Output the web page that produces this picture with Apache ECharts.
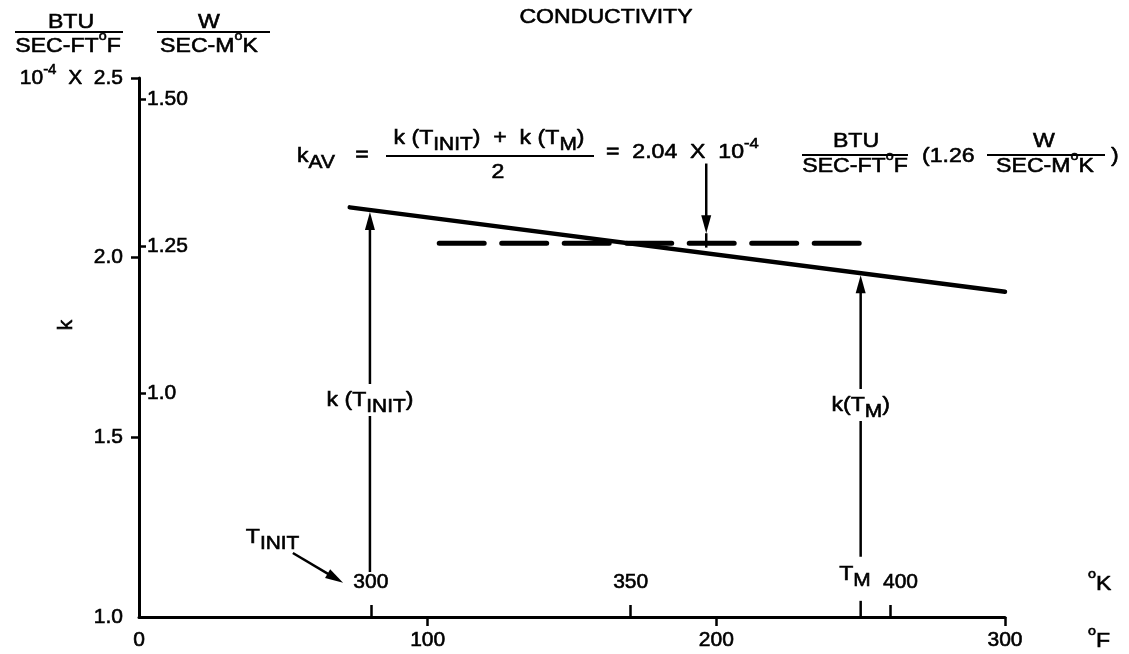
<!DOCTYPE html>
<html>
<head>
<meta charset="utf-8">
<script src="https://cdn.jsdelivr.net/npm/echarts@6/dist/echarts.min.js"></script>
<style>
  html, body { margin: 0; padding: 0; background: #fff; }
  #chart { width: 1129px; height: 654px; }
</style>
</head>
<body>
<div id="chart"></div>
<script>
// Conductivity k of the material versus temperature
const tempF = [73, 300];            // deg F
const kValues = [2.14, 1.905];      // 1e-4 BTU / (s ft F)
const kAvgSpanF = [104, 250];       // extent of the average line
const kAverage = 2.04;              // k_AV, 1e-4 BTU / (s ft F)
const tInitF = 80;                  // T_INIT (300 K)
const tMeltF = 250;                 // T_M
const kTicksBtu = [1.5, 2.0, 2.5];
const kTicksW = [1.0, 1.25, 1.5];
const kTickLabelsW = ['1.0', '1.25', '1.50'];
const kelvinTicks = [300, 350, 400];
const fahrenheitTicks = [100, 200, 300];

const FONT = "'Liberation Sans', Arial, Helvetica, sans-serif";
const INK = '#000';
const FS = 21;
const AXIS_FS = 21;
const WIDE = 1.1;   // lettering is slightly extended
const HEAVY = 0.6;  // extra stroke that gives the lettering its weight

const rich = {
  sub: { fontSize: 19, fontFamily: FONT, color: INK, fill: INK, verticalAlign: 'bottom', lineHeight: 19 },
  deg: { fontSize: 13, fontFamily: FONT, color: INK, fill: INK, verticalAlign: 'top', lineHeight: 21 },
  exp: { fontSize: 15, fontFamily: FONT, color: INK, fill: INK, verticalAlign: 'top', lineHeight: 14 }
};

// linear interpolation along the conductivity line
function kAt(f) {
  const t = (f - tempF[0]) / (tempF[1] - tempF[0]);
  return kValues[0] + t * (kValues[1] - kValues[0]);
}

const fToK = f => (f - 32) / 1.8 + 273.15;

// arrows and plain strokes: [x1, y1, x2, y2, hasHead]
const strokes = [
  [tInitF, 1.125, tInitF, kAt(tInitF) - 0.006, 1],
  [tMeltF, 1.168, tMeltF, kAt(tMeltF) - 0.006, 1],
  [tMeltF, 1.0, tMeltF, 1.045, 0],
  [196.5, 2.262, 196.5, kAverage + 0.028, 1],
  [196.5, kAverage + 0.028, 196.5, kAverage - 0.012, 0],
  [53.3, 1.178, 70.7, 1.095, 1]
];

// text annotations anchored in data space
const notes = [
  { value: [tInitF, 1.604], text: 'k (T{sub|INIT})', align: 'center', bg: true },
  { value: [tMeltF, 1.590], text: 'k(T{sub|M})', align: 'center', bg: true },
  { value: [37, 1.222], text: 'T{sub|INIT}', align: 'left', bg: false },
  { value: [248, 1.118], text: 'T{sub|M}', align: 'center', bg: false }
];

const chart = echarts.init(document.getElementById('chart'), null, { renderer: 'canvas' });

function txt(x, y, text, align, extra) {
  return Object.assign({
    type: 'text', x: x, y: y, z: 10, scaleX: WIDE,
    style: {
      text: text, fontSize: FS, fontFamily: FONT, fill: INK,
      stroke: INK, lineWidth: HEAVY,
      align: align || 'center', verticalAlign: 'middle', lineHeight: 32,
      rich: rich
    }
  }, extra || {});
}
function rule(x1, x2, y, w) {
  return { type: 'line', z: 10, shape: { x1: x1, y1: y, x2: x2, y2: y }, style: { stroke: INK, lineWidth: w || 2 } };
}

const axisText = {
  fontSize: AXIS_FS, fontFamily: FONT, color: INK,
  textBorderColor: INK, textBorderWidth: HEAVY
};

const graphics = [
  // title
  txt(606, 17, 'CONDUCTIVITY'),
  // unit fractions of the two k scales
  txt(71, 22, 'BTU'), rule(15, 123, 32), txt(68, 46, 'SEC-FT{deg|o}F'),
  txt(209, 22, 'W'), rule(157, 270, 32), txt(209, 46, 'SEC-M{deg|o}K'),
  // y axis name
  txt(66, 325, 'k', 'center', { rotation: Math.PI / 2, scaleX: 1 }),
  // temperature units
  txt(1088, 584, '{deg|o}K', 'left'), txt(1088, 641, '{deg|o}F', 'left'),
  // average conductivity formula
  txt(297, 156, 'k{sub|AV}', 'left'),
  txt(362, 155, '='),
  txt(489, 138, 'k (T{sub|INIT})  +  k (T{sub|M})'),
  rule(386, 594, 156, 2),
  txt(498, 172, '2'),
  txt(606, 152, '=  2.04  X  10{exp|-4}', 'left'),
  txt(856, 141, 'BTU'), rule(802, 908, 155, 2), txt(855, 166, 'SEC-FT{deg|o}F'),
  txt(922, 156, '(1.26', 'left'),
  txt(1044, 141, 'W'), rule(987, 1105, 155, 2), txt(1045, 166, 'SEC-M{deg|o}K'),
  txt(1111, 156, ')', 'left')
];

const option = {
  backgroundColor: '#fff',
  animation: false,
  grid: { left: 139, right: 124, top: 78, bottom: 37, outerBoundsMode: 'none' },
  xAxis: [
    {
      type: 'value', position: 'bottom', min: 0, max: 300, interval: 100,
      axisLine: { show: true, lineStyle: { color: INK, width: 3 } },
      axisTick: { show: true, inside: false, length: 9, customValues: fahrenheitTicks, lineStyle: { color: INK, width: 2.5 } },
      axisLabel: Object.assign({ show: true, margin: 13 }, axisText),
      splitLine: { show: false }
    },
    {
      type: 'value', position: 'bottom', min: fToK(0), max: fToK(300),
      axisLine: { show: false },
      axisTick: { show: true, inside: true, length: 12, customValues: kelvinTicks, lineStyle: { color: INK, width: 2.5 } },
      axisLabel: Object.assign({
        show: true, inside: true, margin: 24, customValues: kelvinTicks,
        // the 400 K label sits a little right of its tick, clear of T_M
        formatter: v => v === 400 ? '{shift|' + v + '}' : String(v),
        rich: { shift: Object.assign({ padding: [0, 0, 0, 20] }, axisText) }
      }, axisText),
      splitLine: { show: false }
    }
  ],
  yAxis: [
    {
      type: 'value', position: 'left', min: 1.0, max: 2.5, interval: 0.5,
      axisLine: { show: true, lineStyle: { color: INK, width: 3 } },
      axisTick: { show: true, inside: false, length: 8, customValues: kTicksBtu, lineStyle: { color: INK, width: 2.5 } },
      axisLabel: Object.assign({
        show: true, margin: 16, lineHeight: 32,
        formatter: v => v === 2.5 ? '10{exp|-4}  X  2.5' : v.toFixed(1),
        rich: { exp: Object.assign({ textBorderColor: INK, textBorderWidth: HEAVY }, rich.exp) }
      }, axisText),
      splitLine: { show: false }
    },
    {
      type: 'value', position: 'left', min: 0.619, max: 1.536,
      axisLine: { show: false },
      axisTick: { show: true, inside: true, length: 7, customValues: kTicksW, lineStyle: { color: INK, width: 2.5 } },
      axisLabel: Object.assign({
        show: true, inside: true, margin: 8, customValues: kTicksW,
        formatter: v => {
          const i = kTicksW.indexOf(v);
          return i >= 0 ? kTickLabelsW[i] : '';
        }
      }, axisText),
      splitLine: { show: false }
    }
  ],
  series: [
    {
      name: 'k', type: 'line', xAxisIndex: 0, yAxisIndex: 0,
      data: tempF.map((f, i) => [f, kValues[i]]),
      symbol: 'none', silent: true, z: 3,
      lineStyle: { color: INK, width: 4.5, cap: 'round' }
    },
    {
      name: 'k_AV', type: 'line', xAxisIndex: 0, yAxisIndex: 0,
      data: kAvgSpanF.map(f => [f, kAverage]),
      symbol: 'none', silent: true, z: 3,
      lineStyle: { color: INK, width: 5, type: [45, 17.5], cap: 'round' }
    },
    {
      name: 'arrows', type: 'custom', xAxisIndex: 0, yAxisIndex: 0,
      data: strokes, silent: true, z: 4, clip: false,
      encode: { x: [0, 2], y: [1, 3] },
      renderItem: function (params, api) {
        const a = api.coord([api.value(0), api.value(1)]);
        const b = api.coord([api.value(2), api.value(3)]);
        const head = api.value(4);
        const dx = b[0] - a[0], dy = b[1] - a[1];
        const len = Math.hypot(dx, dy) || 1;
        const ux = dx / len, uy = dy / len;
        const hl = 18, hw = 5;
        const end = head ? [b[0] - ux * hl * 0.7, b[1] - uy * hl * 0.7] : b;
        const children = [{
          type: 'line',
          shape: { x1: a[0], y1: a[1], x2: end[0], y2: end[1] },
          style: { stroke: INK, lineWidth: 2.5 }
        }];
        if (head) {
          children.push({
            type: 'polygon',
            shape: { points: [
              [b[0], b[1]],
              [b[0] - ux * hl - uy * hw, b[1] - uy * hl + ux * hw],
              [b[0] - ux * hl + uy * hw, b[1] - uy * hl - ux * hw]
            ] },
            style: { fill: INK }
          });
        }
        return { type: 'group', children: children };
      }
    }
  ]
};

chart.setOption(option);

// annotation labels placed through the grid's coordinate system
const noteGraphics = notes.map(n => {
  const p = chart.convertToPixel({ xAxisIndex: 0, yAxisIndex: 0 }, n.value);
  const g = txt(p[0], p[1], n.text, n.align);
  if (n.bg) {
    g.style.backgroundColor = '#fff';
    g.style.padding = [0, 2];
  }
  return g;
});

chart.setOption({ graphic: graphics.concat(noteGraphics) });
</script>
</body>
</html>
